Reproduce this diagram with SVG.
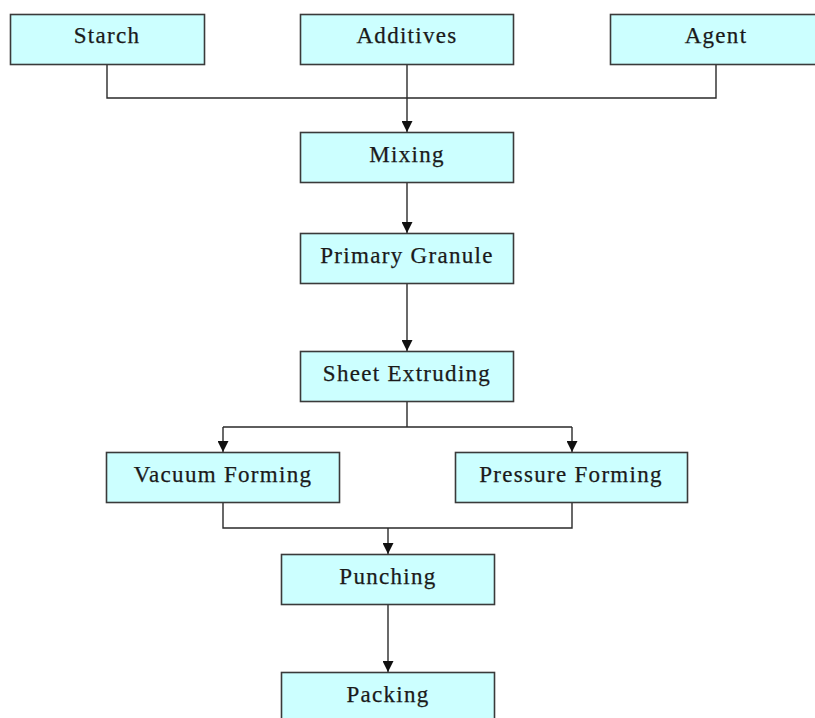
<svg xmlns="http://www.w3.org/2000/svg" width="815" height="718" viewBox="0 0 815 718">
<style>
.box{fill:#CCFFFF;stroke:#3a3a3a;stroke-width:1.6}
.lbl{font-family:"Liberation Serif","Times New Roman",serif;font-size:23px;letter-spacing:1.3px;fill:#1a1a1a;stroke:#1a1a1a;stroke-width:0.25;text-anchor:middle}
.con{fill:none;stroke:#2a2a2a;stroke-width:1.4}
</style>
<defs>
<marker id="arr" markerUnits="userSpaceOnUse" markerWidth="12" markerHeight="11" refX="10" refY="5" orient="auto" viewBox="0 0 10 10">
<path d="M0,0 L10,5 L0,10 z" fill="#111"/>
</marker>
</defs>
<rect width="815" height="718" fill="#fff"/>
<g id="connectors">
<path class="con" d="M107,65 V98 H716 V65"/>
<path class="con" d="M407,65 V132" marker-end="url(#arr)"/>
<path class="con" d="M407,183 V233" marker-end="url(#arr)"/>
<path class="con" d="M407,284 V351" marker-end="url(#arr)"/>
<path class="con" d="M407,402 V427 M223,427 H572"/>
<path class="con" d="M223,427 V452" marker-end="url(#arr)"/>
<path class="con" d="M572,427 V452" marker-end="url(#arr)"/>
<path class="con" d="M223,503 V528 H572 V503"/>
<path class="con" d="M388,528 V554" marker-end="url(#arr)"/>
<path class="con" d="M388,605 V672" marker-end="url(#arr)"/>
</g>
<g id="starch"><rect class="box" x="10.5" y="14.5" width="194" height="50"/><text class="lbl" x="107" y="43">Starch</text></g>
<g id="additives"><rect class="box" x="300.5" y="14.5" width="213" height="50"/><text class="lbl" x="407" y="43">Additives</text></g>
<g id="agent"><rect class="box" x="610.5" y="14.5" width="220" height="50"/><text class="lbl" x="716" y="43">Agent</text></g>
<g id="mixing"><rect class="box" x="300.5" y="132.5" width="213" height="50"/><text class="lbl" x="407" y="162">Mixing</text></g>
<g id="primary-granule"><rect class="box" x="300.5" y="233.5" width="213" height="50"/><text class="lbl" x="407" y="263">Primary Granule</text></g>
<g id="sheet-extruding"><rect class="box" x="300.5" y="351.5" width="213" height="50"/><text class="lbl" x="407" y="381">Sheet Extruding</text></g>
<g id="vacuum-forming"><rect class="box" x="106.5" y="452.5" width="233" height="50"/><text class="lbl" x="223" y="482">Vacuum Forming</text></g>
<g id="pressure-forming"><rect class="box" x="455.5" y="452.5" width="232" height="50"/><text class="lbl" x="571" y="482">Pressure Forming</text></g>
<g id="punching"><rect class="box" x="281.5" y="554.5" width="213" height="50"/><text class="lbl" x="388" y="584">Punching</text></g>
<g id="packing"><rect class="box" x="281.5" y="672.5" width="213" height="60"/><text class="lbl" x="388" y="702">Packing</text></g>
</svg>
